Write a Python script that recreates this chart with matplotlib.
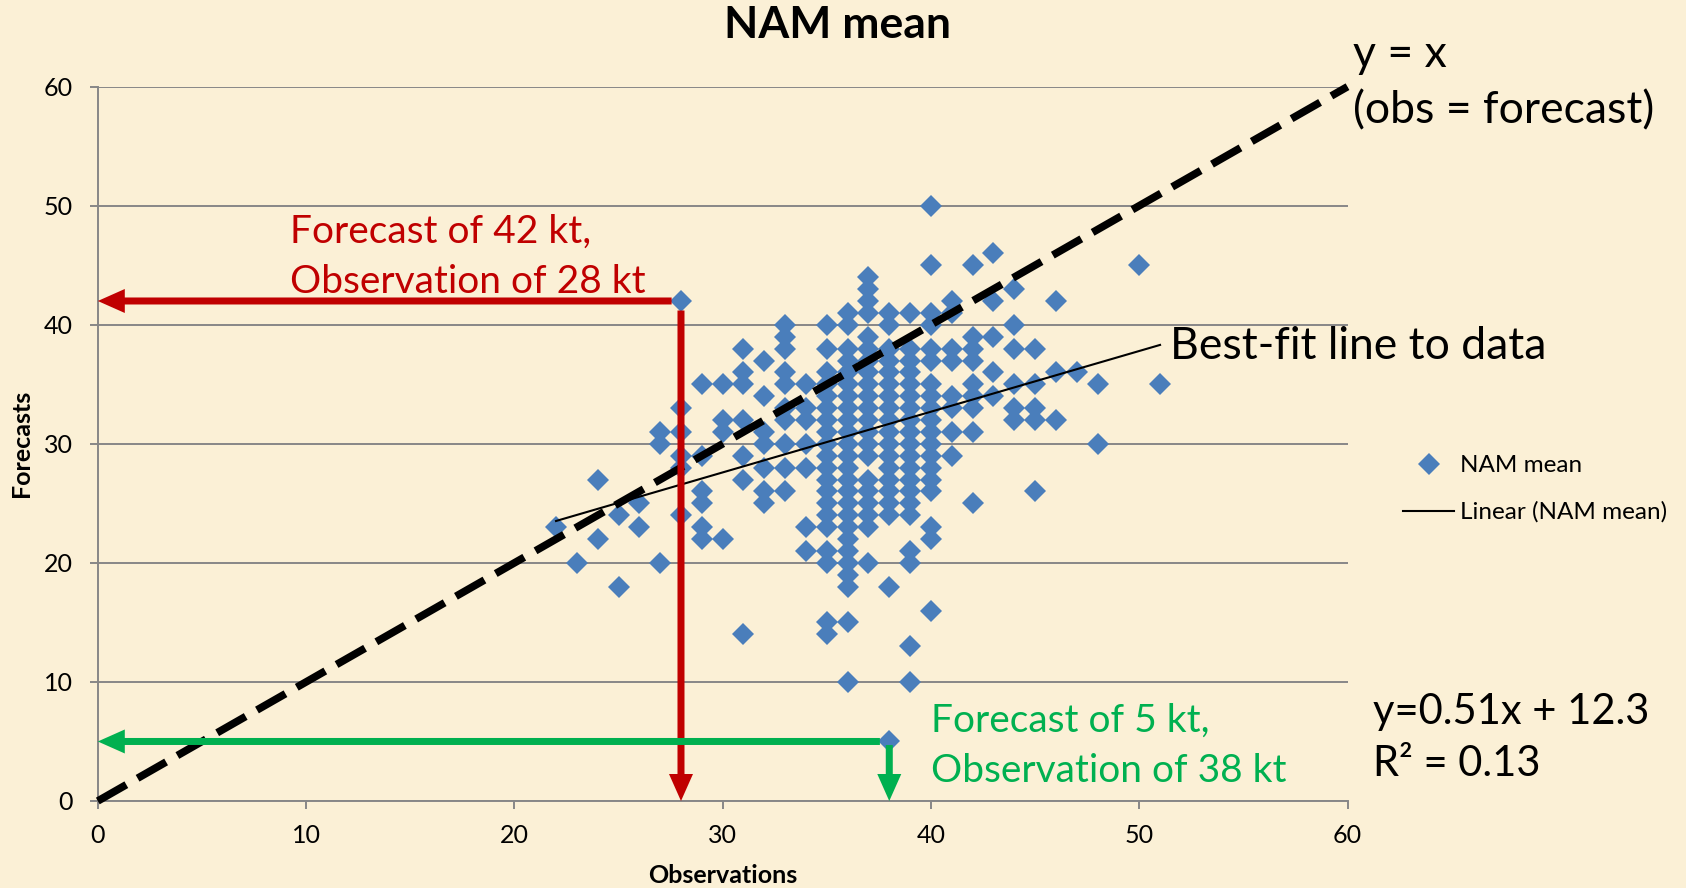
import numpy as np
import matplotlib
matplotlib.use("Agg")
import matplotlib.pyplot as plt

plt.rcParams["font.family"] = ["Lato", "DejaVu Sans"]

W, H = 1686, 888

obs_values = [22, 23, 24, 25, 26, 27, 28, 29, 30, 31, 32, 33, 34, 35, 36,
              37, 38, 39, 40, 41, 42, 43, 44, 45, 46, 47, 48, 50, 51]
forecast_cols = [
    [23],
    [20],
    [27, 22],
    [24, 18],
    [25, 23],
    [31, 30, 20],
    [42, 33, 31, 29, 28, 24],
    [35, 29, 26, 25, 23, 22],
    [35, 32, 31, 22],
    [38, 36, 35, 32, 29, 27, 14],
    [37, 34, 31, 30, 28, 26, 25],
    [40, 39, 38, 36, 35, 33, 32, 30, 28, 26],
    [35, 33, 32, 30, 28, 23, 21],
    [40, 38, 36, 35, 34, 33, 32, 31, 30, 29, 28, 27, 26, 25, 24, 23, 21, 20, 15, 14],
    [41, 40, 38, 37, 36, 35, 34, 33, 32, 31, 30, 29, 28, 27, 26, 25, 24, 23, 22,
     21, 20, 19, 18, 15, 10],
    [44, 43, 42, 41, 39, 38, 37, 36, 35, 34, 33, 32, 31, 30, 29, 27, 26, 25, 24, 23, 20],
    [41, 40, 38, 37, 36, 35, 34, 33, 32, 31, 30, 29, 28, 27, 26, 25, 24, 18, 5],
    [41, 38, 37, 36, 35, 34, 33, 32, 31, 30, 29, 28, 27, 26, 25, 24, 21, 20, 13, 10],
    [50, 45, 41, 40, 38, 37, 35, 34, 33, 32, 31, 30, 29, 28, 27, 26, 23, 22, 16],
    [42, 41, 38, 37, 34, 33, 31, 29],
    [45, 39, 38, 37, 35, 34, 33, 31, 25],
    [46, 42, 39, 36, 34],
    [43, 40, 38, 35, 33, 32],
    [38, 35, 33, 32, 26],
    [42, 36, 32],
    [36],
    [35, 30],
    [45],
    [35],
]

# Excel trendline
trend_slope = 0.51
trend_intercept = 12.3
r_squared = 0.13

# the two highlighted cases (obs, forecast)
over_case = (28, 42)
under_case = (38, 5)

ticks = [0, 10, 20, 30, 40, 50, 60]

BG = "#FBF0D6"
BLUE = "#4A7EBB"
RED = "#C00000"
GREEN = "#00B050"
GRAY = "#878787"

obs = np.concatenate([[o] * len(f) for o, f in zip(obs_values, forecast_cols)])
fc = np.concatenate(forecast_cols)

fig = plt.figure(figsize=(W / 100, H / 100), dpi=100, facecolor=BG)
ax_l, ax_r, ax_t, ax_b = 97.8, 1347.5, 86.7, 801.0   # axes box in px
ax = fig.add_axes([ax_l / W, 1 - ax_b / H, (ax_r - ax_l) / W, (ax_b - ax_t) / H])
ax.set_facecolor("none")
ux = (ax_r - ax_l) / 60   # px per kt along x
uy = (ax_b - ax_t) / 60   # px per kt along y

ax.plot(obs, fc, "D", color=BLUE, ms=11, mew=0, zorder=3, label="NAM mean")
tx = np.array([obs.min(), obs.max()])
ax.plot(tx, trend_slope * tx + trend_intercept, color="black", lw=1.5, zorder=5,
        label="Linear (NAM mean)")
ax.plot([0, 60], [0, 60], color="black", lw=5.5, dashes=(4.3, 1.7), zorder=6,
        clip_on=False)


def arrow(x0, y0, x1, y1, color):
    horiz = y0 == y1
    w_u, l_u = (uy, ux) if horiz else (ux, uy)
    ax.arrow(x0, y0, x1 - x0, y1 - y0, width=7 / w_u, head_width=24 / w_u,
             head_length=27 / l_u, length_includes_head=True, color=color,
             lw=0, zorder=7, clip_on=False)


ox, oy = over_case
arrow(ox - 0.45, oy, 0, oy, RED)
arrow(ox, oy - 0.8, ox, 0, RED)
ux_, uy_ = under_case
arrow(ux_ - 0.45, uy_, 0, uy_, GREEN)
arrow(ux_, uy_ - 0.3, ux_, 0, GREEN)

ax.set_xlim(0, 60)
ax.set_ylim(0, 60)
ax.set_xticks(ticks)
ax.set_yticks(ticks)
ax.yaxis.grid(True, color=GRAY, lw=1.4)
ax.set_axisbelow(True)
for s in ("top", "right"):
    ax.spines[s].set_visible(False)
for s in ("left", "bottom"):
    ax.spines[s].set_color(GRAY)
    ax.spines[s].set_linewidth(1.4)
ax.tick_params(axis="both", direction="out", length=5.8, width=1.4, color=GRAY,
               labelsize=18, labelcolor="black")
ax.tick_params(axis="y", pad=12)
ax.tick_params(axis="x", pad=11)

ax.set_xlabel("Observations", fontsize=18, fontweight="bold")
ax.xaxis.set_label_coords(0.5, -(875 - ax_b) / (ax_b - ax_t))
ax.xaxis.label.set_va("center")
ax.set_ylabel("Forecasts", fontsize=18, fontweight="bold")
ax.yaxis.set_label_coords(-(ax_l - 21.5) / (ax_r - ax_l), 0.5)
ax.yaxis.label.set_va("center")

fig.text(837 / W, 1 - 25 / H, "NAM mean", ha="center", va="center",
         fontsize=32, fontweight="bold")

ax.legend(loc="upper left", bbox_to_anchor=(1403 / W, 1 - 455 / H),
          bbox_transform=fig.transFigure, frameon=False, fontsize=17.5,
          handlelength=2.1, handletextpad=0.25, labelspacing=1.05,
          borderpad=0, borderaxespad=0, numpoints=1)

fig.text(1353 / W, 1 - 83 / H, "y = x\n(obs = forecast)", ha="left", va="center",
         fontsize=32, linespacing=1.47)
fig.text(1170 / W, 1 - 346 / H, "Best-fit line to data", ha="left", va="center",
         fontsize=32)
fig.text(290 / W, 1 - 257 / H, f"Forecast of {oy} kt,\nObservation of {ox} kt",
         ha="left", va="center", fontsize=28, color=RED, linespacing=1.48)
fig.text(931 / W, 1 - 746 / H, f"Forecast of {uy_} kt,\nObservation of {ux_} kt",
         ha="left", va="center", fontsize=28, color=GREEN, linespacing=1.48)
fig.text(1373 / W, 1 - 738 / H,
         f"y={trend_slope:.2f}x + {trend_intercept}\nR\u00b2 = {r_squared:.2f}",
         ha="left", va="center", fontsize=30, linespacing=1.48)

fig.savefig("out.png", dpi=100, facecolor=BG)
